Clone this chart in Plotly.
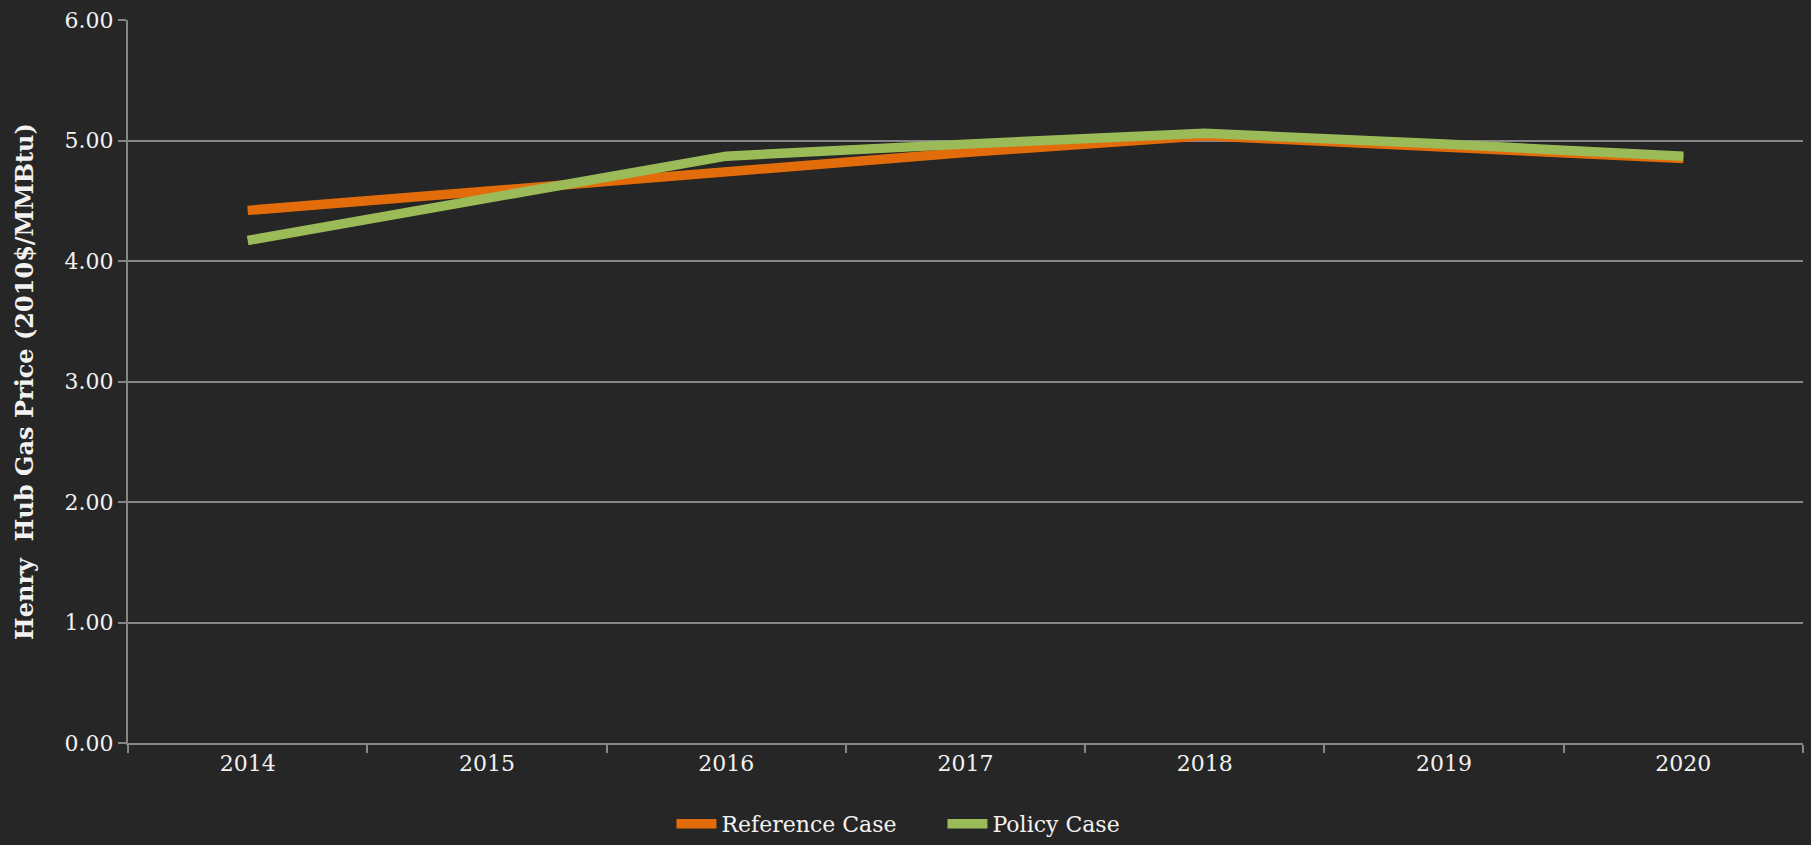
import plotly.graph_objects as go

years = ["2014", "2015", "2016", "2017", "2018", "2019", "2020"]
reference_case = [4.42, 4.58, 4.73, 4.90, 5.04, 4.95, 4.85]
policy_case = [4.17, 4.52, 4.87, 4.97, 5.06, 4.97, 4.87]
y_ticks = [0, 1, 2, 3, 4, 5, 6]
y_tick_labels = ["0.00", "1.00", "2.00", "3.00", "4.00", "5.00", "6.00"]

BG = "#262626"
GRID = "#868686"
TXT = "#F2F2F2"
FONT = "DejaVu Serif, Liberation Serif, serif"

fig = go.Figure()
fig.add_trace(go.Scatter(x=years, y=reference_case, mode="lines", name="Reference Case",
                         line=dict(color="#E36C0A", width=9.5)))
fig.add_trace(go.Scatter(x=years, y=policy_case, mode="lines", name="Policy Case",
                         line=dict(color="#9BBB59", width=9.5)))

fig.update_layout(
    width=1811, height=845,
    paper_bgcolor=BG, plot_bgcolor=BG,
    margin=dict(l=128, r=8, t=18, b=102),
    font=dict(family=FONT, color=TXT, size=22),
    showlegend=True,
    legend=dict(orientation="h", xref="container", yref="container",
                x=0.5204, xanchor="center", y=-0.008, yanchor="bottom",
                font=dict(size=22, color=TXT, family=FONT),
                bgcolor="rgba(0,0,0,0)", itemwidth=40, tracegroupgap=0,
                entrywidth=216, entrywidthmode="pixels"),
)
fig.update_xaxes(
    type="category", range=[-0.5, 6.5],
    showgrid=False, showline=True, linecolor=GRID, linewidth=2,
    ticks="outside", tickson="boundaries", ticklen=8, tickcolor=GRID, tickwidth=2,
    tickfont=dict(size=22, color=TXT, family=FONT), zeroline=False,
)
fig.update_yaxes(
    range=[0, 6], tickvals=y_ticks, ticktext=y_tick_labels,
    showgrid=True, gridcolor=GRID, gridwidth=1.5,
    showline=True, linecolor=GRID, linewidth=2,
    ticks="outside", ticklen=8, tickcolor=GRID, tickwidth=2,
    tickfont=dict(size=22, color=TXT, family=FONT), zeroline=False,
    title=dict(text="<b>Henry  Hub Gas Price (2010$/MMBtu)</b>",
               font=dict(size=24, color=TXT, family=FONT), standoff=24),
)

fig.write_html("out.html", config={"displayModeBar": False},
               post_script="document.body.style.margin='0';document.body.style.overflow='hidden';")
